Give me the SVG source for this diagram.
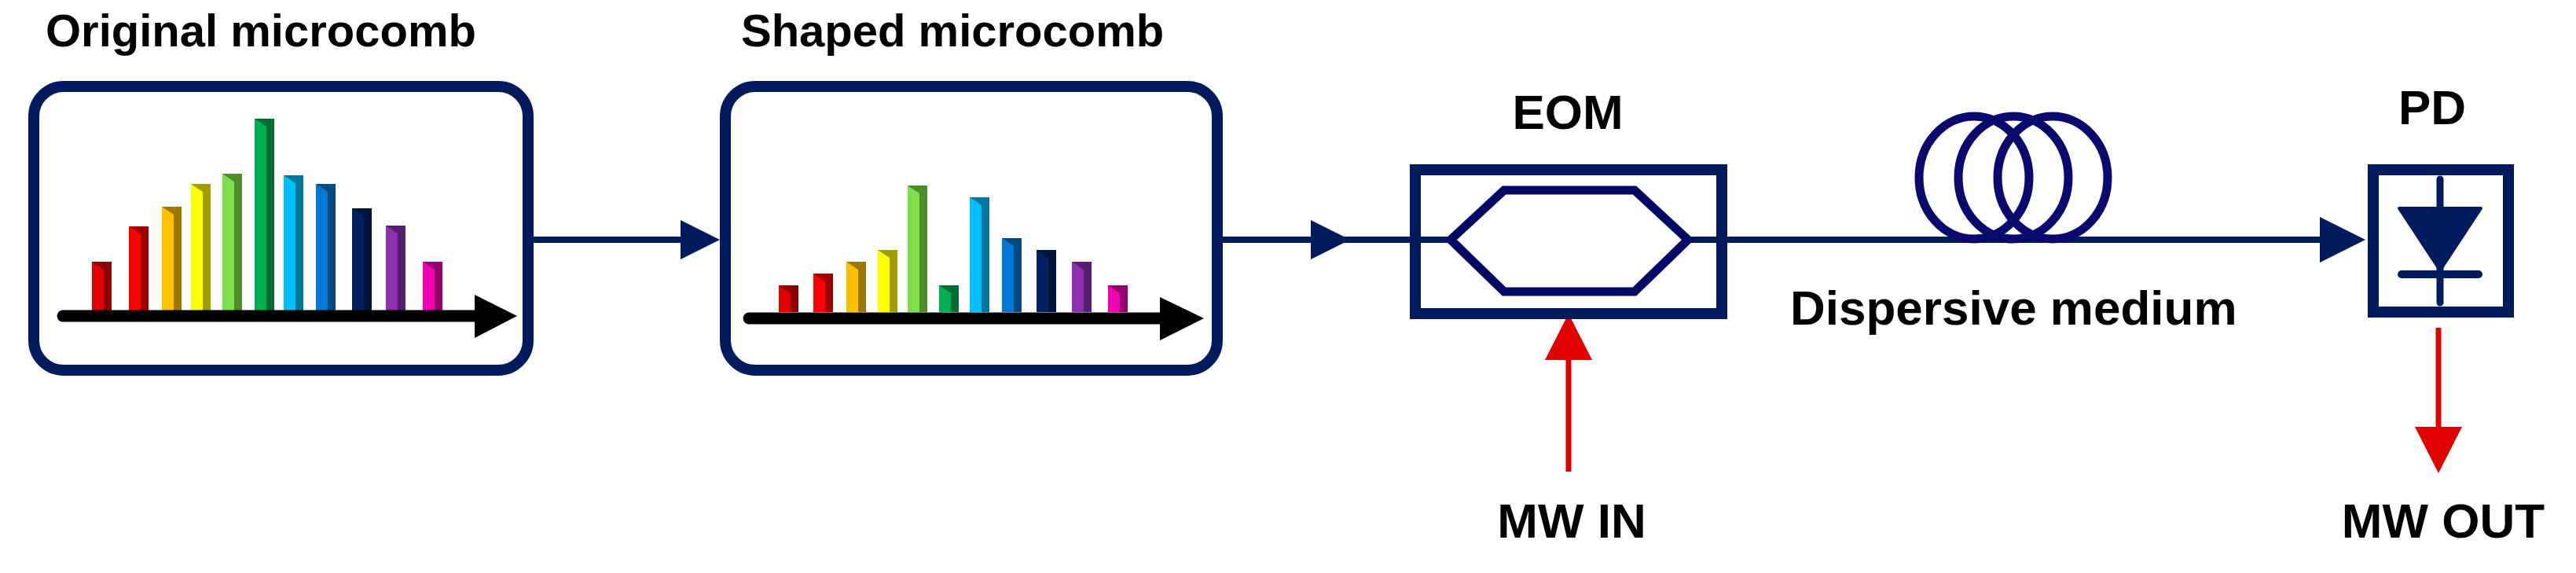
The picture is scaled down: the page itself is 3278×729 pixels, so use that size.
<svg xmlns="http://www.w3.org/2000/svg" width="3278" height="729" viewBox="0 0 3278 729">
<style>
.t{font-family:"Liberation Sans",Arial,sans-serif;font-weight:bold;font-size:58px;fill:#000}
.t2{font-size:62px}
.box{fill:#fff;stroke:#001a5e;stroke-width:14}
.ln{stroke:#001a5e;stroke-width:8;fill:none}
.hd{fill:#001a5e}
.sh{fill:#000;opacity:0.38}
.ax{stroke:#000;stroke-width:15;stroke-linecap:round}
.red{stroke:#e00000;stroke-width:7}
.redh{fill:#e00000}
</style>
<g id="connectors">
<line class="ln" x1="679" y1="305" x2="870" y2="305"/>
<polygon class="hd" points="866,280 916,305 866,330"/>
<line class="ln" x1="1556" y1="305" x2="1846" y2="305"/>
<polygon class="hd" points="1668,280 1718,305 1668,330"/>
<line class="ln" x1="2148" y1="305" x2="2960" y2="305"/>
<polygon class="hd" points="2952,276 3010,305 2952,334"/>
<line class="red" x1="1996" y1="600" x2="1996" y2="455"/>
<polygon class="redh" points="1966,458 1996,399 2026,458"/>
<line class="red" x1="3103" y1="417" x2="3103" y2="546"/>
<polygon class="redh" points="3073,543 3103,602 3133,543"/>
</g>
<g id="original">
<text class="t" x="58" y="59">Original microcomb</text>
<rect class="box" x="43" y="110" width="629" height="361" rx="38"/>
<g>
<rect x="117" y="333" width="25" height="62" fill="#e00000"/><polygon class="sh" points="117,333 142,333 142,395 132,395 132,343"/>
<rect x="164" y="288" width="25" height="107" fill="#ff0000"/><polygon class="sh" points="164,288 189,288 189,395 179,395 179,298"/>
<rect x="206" y="263" width="25" height="132" fill="#ffc000"/><polygon class="sh" points="206,263 231,263 231,395 221,395 221,273"/>
<rect x="243" y="234" width="25" height="161" fill="#ffff00"/><polygon class="sh" points="243,234 268,234 268,395 258,395 258,244"/>
<rect x="283" y="221" width="25" height="174" fill="#7ce04a"/><polygon class="sh" points="283,221 308,221 308,395 298,395 298,231"/>
<rect x="324" y="151" width="25" height="244" fill="#00b050"/><polygon class="sh" points="324,151 349,151 349,395 339,395 339,161"/>
<rect x="361" y="223" width="25" height="172" fill="#00bfff"/><polygon class="sh" points="361,223 386,223 386,395 376,395 376,233"/>
<rect x="402" y="234" width="25" height="161" fill="#0078d4"/><polygon class="sh" points="402,234 427,234 427,395 417,395 417,244"/>
<rect x="448" y="265" width="25" height="130" fill="#002060"/><polygon class="sh" points="448,265 473,265 473,395 463,395 463,275"/>
<rect x="491" y="287" width="25" height="108" fill="#8e2fb0"/><polygon class="sh" points="491,287 516,287 516,395 506,395 506,297"/>
<rect x="538" y="333" width="25" height="62" fill="#f000b4"/><polygon class="sh" points="538,333 563,333 563,395 553,395 553,343"/>
</g>
<line class="ax" x1="80" y1="402" x2="610" y2="402"/>
<polygon points="604,375 658,402 604,430" fill="#000"/>
</g>
<g id="shaped">
<text class="t" x="943" y="59">Shaped microcomb</text>
<rect class="box" x="923" y="110" width="626" height="361" rx="38"/>
<g>
<rect x="991" y="363" width="25" height="34" fill="#e00000"/><polygon class="sh" points="991,363 1016,363 1016,397 1006,397 1006,373"/>
<rect x="1035" y="348" width="25" height="49" fill="#ff0000"/><polygon class="sh" points="1035,348 1060,348 1060,397 1050,397 1050,358"/>
<rect x="1077" y="333" width="25" height="64" fill="#ffc000"/><polygon class="sh" points="1077,333 1102,333 1102,397 1092,397 1092,343"/>
<rect x="1117" y="318" width="25" height="79" fill="#ffff00"/><polygon class="sh" points="1117,318 1142,318 1142,397 1132,397 1132,328"/>
<rect x="1155" y="236" width="25" height="161" fill="#7ce04a"/><polygon class="sh" points="1155,236 1180,236 1180,397 1170,397 1170,246"/>
<rect x="1195" y="363" width="25" height="34" fill="#00b050"/><polygon class="sh" points="1195,363 1220,363 1220,397 1210,397 1210,373"/>
<rect x="1234" y="251" width="25" height="146" fill="#00bfff"/><polygon class="sh" points="1234,251 1259,251 1259,397 1249,397 1249,261"/>
<rect x="1275" y="303" width="25" height="94" fill="#0078d4"/><polygon class="sh" points="1275,303 1300,303 1300,397 1290,397 1290,313"/>
<rect x="1319" y="318" width="25" height="79" fill="#002060"/><polygon class="sh" points="1319,318 1344,318 1344,397 1334,397 1334,328"/>
<rect x="1364" y="333" width="25" height="64" fill="#8e2fb0"/><polygon class="sh" points="1364,333 1389,333 1389,397 1379,397 1379,343"/>
<rect x="1410" y="363" width="25" height="34" fill="#f000b4"/><polygon class="sh" points="1410,363 1435,363 1435,397 1425,397 1425,373"/>
</g>
<line class="ax" x1="953" y1="405" x2="1482" y2="405"/>
<polygon points="1476,378 1532,405 1476,433" fill="#000"/>
</g>
<g id="eom">
<text class="t t2" x="1995" y="164" text-anchor="middle">EOM</text>
<rect x="1801" y="216" width="390" height="183" fill="none" stroke="#001a5e" stroke-width="14"/>
<line class="ln" x1="1794" y1="305" x2="1846" y2="305"/>
<polygon points="1846,305 1914,242 2080,242 2148,305 2080,371 1914,371" fill="#fff" stroke="#000a66" stroke-width="11"/>
</g>
<g id="fiber" fill="none" stroke="#0a0a6e" stroke-width="11">
<ellipse cx="2512" cy="226" rx="70" ry="78"/>
<ellipse cx="2562" cy="226" rx="70" ry="78"/>
<ellipse cx="2612" cy="226" rx="70" ry="78"/>
<text class="t t2" x="2278" y="413" stroke="none">Dispersive medium</text>
</g>
<g id="pd">
<text class="t t2" x="3095" y="158" text-anchor="middle">PD</text>
<rect x="3020" y="216" width="172" height="181" fill="#fff" stroke="#001a5e" stroke-width="14"/>
<line x1="3105" y1="228" x2="3105" y2="385" stroke="#001a5e" stroke-width="9" stroke-linecap="round"/>
<polygon points="3053,265 3157,265 3105,344" fill="#001a5e" stroke="#001a5e" stroke-width="4" stroke-linejoin="round"/>
<line x1="3056" y1="349" x2="3154" y2="349" stroke="#001a5e" stroke-width="10" stroke-linecap="round"/>
</g>
<g id="labels">
<text class="t t2" x="2000" y="684" text-anchor="middle">MW IN</text>
<text class="t t2" x="3109" y="684" text-anchor="middle">MW OUT</text>
</g>
</svg>
